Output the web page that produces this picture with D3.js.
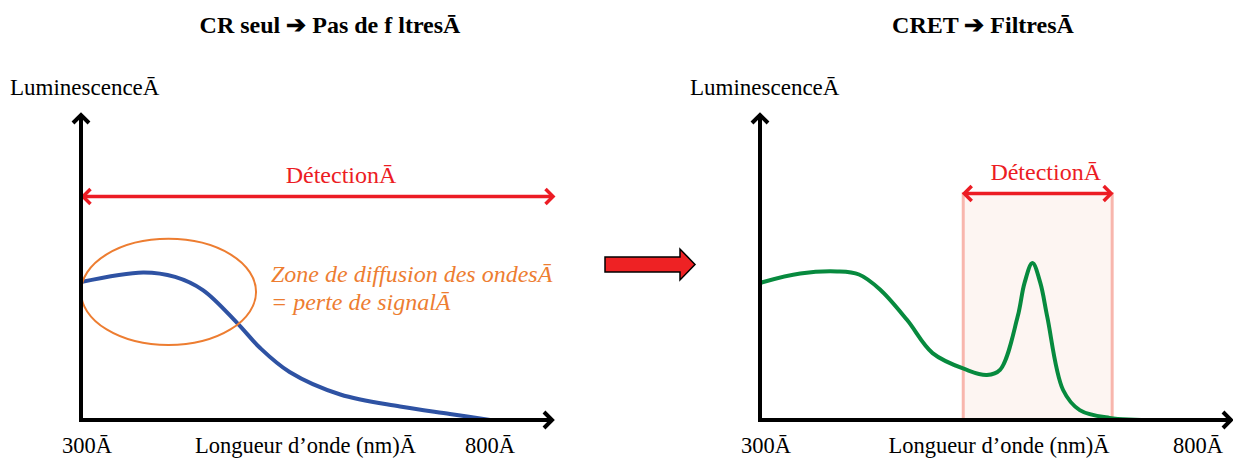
<!DOCTYPE html>
<html><head><meta charset="utf-8">
<script src="https://cdn.jsdelivr.net/npm/d3@7"></script>
<style>body{margin:0;background:#fff}svg{display:block}</style>
</head><body>
<svg id="c" width="1233" height="459"></svg>
<script>
// ---- data ----
const titles = ["CR seul \u2794 Pas de f ltres\u0100", "CRET \u2794 Filtres\u0100"];
const yLabel = "Luminescence\u0100";
const xLabel = "Longueur d\u2019onde (nm)\u0100";
const xTicks = [300, 800];
const tickLabels = ["300\u0100", "800\u0100"];
const detectionLabel = "D\u00e9tection\u0100";
const zoneLabel = ["Zone de diffusion des ondes\u0100", "= perte de signal\u0100"];
// CR seul spectrum (wavelength nm, luminescence a.u.)
const crWave = [300, 376, 415, 449, 491, 519, 555, 617, 690, 751, 800];
const crLum  = [0.46, 0.492, 0.477, 0.433, 0.323, 0.24, 0.16, 0.085, 0.045, 0.02, 0.0];
// CRET spectrum
const cretWave = [300, 346, 388, 413, 437, 468, 497, 536, 559, 574, 594, 602, 611, 620, 628, 646, 665, 699, 753];
const cretLum  = [0.457, 0.488, 0.495, 0.485, 0.435, 0.333, 0.223, 0.167, 0.15, 0.167, 0.343, 0.457, 0.523, 0.457, 0.343, 0.1, 0.033, 0.007, 0.0];
// scattering zone ellipse (center nm, center lum, radius nm, radius lum)
const zone = [407, 0.427, 107, 0.177];
// filter detection band (nm) and its height
const band = [532, 702];
const bandTop = 0.76;
const detY = [0.745, 0.755];

// ---- layout ----
const FONT = "'Liberation Serif', 'Times New Roman', serif";
const svg = d3.select("#c");
const panels = [
  {x0: 81, x1: 490, tip: 553, titleX: 330, lumX: 10},
  {x0: 760, x1: 1198, tip: 1232, titleX: 983, lumX: 690}
];
const y = d3.scaleLinear().domain([0, 1]).range([420, 120]);
const red = "#ec1c24";

function txt(g, x, yy, s, size) {
  return g.append("text").attr("x", x).attr("y", yy).attr("font-family", FONT)
    .attr("font-size", size).text(s);
}

function arrowHead(g, x, yy, dir, size, color, sw) {
  let p;
  if (dir === 'r') p = [[x - size, yy - size], [x, yy], [x - size, yy + size]];
  if (dir === 'l') p = [[x + size, yy - size], [x, yy], [x + size, yy + size]];
  if (dir === 'u') p = [[x - size, yy + size], [x, yy], [x + size, yy + size]];
  g.append("path").attr("d", d3.line()(p)).attr("fill", "none")
    .attr("stroke", color).attr("stroke-width", sw).attr("stroke-linejoin", "miter");
}

panels.forEach((P, i) => {
  const x = d3.scaleLinear().domain([300, 800]).range([P.x0, P.x1]);
  const g = svg.append("g");

  // title
  txt(g, P.titleX, 33, titles[i], 24).attr("text-anchor", "middle").attr("font-weight", "bold");
  txt(g, P.lumX, 95, yLabel, 23);

  // detection band (right panel)
  if (i === 1) {
    g.append("rect").attr("x", x(band[0])).attr("y", y(bandTop))
      .attr("width", x(band[1]) - x(band[0])).attr("height", y(0) - y(bandTop))
      .attr("fill", "#fdf5f2");
    band.forEach(b => g.append("line").attr("x1", x(b)).attr("x2", x(b))
      .attr("y1", y(bandTop)).attr("y2", y(0)).attr("stroke", "#f8b6ad").attr("stroke-width", 3));
  }

  // curve
  const wave = i === 0 ? crWave : cretWave;
  const lum = i === 0 ? crLum : cretLum;
  const pts = wave.map((w, k) => [x(w), y(lum[k])]);
  g.append("path").attr("d", d3.line().curve(d3.curveCatmullRom.alpha(0.5))(pts))
    .attr("fill", "none").attr("stroke", i === 0 ? "#2e52a3" : "#078a3e").attr("stroke-width", 4);

  // axes
  const ax = svg.append("g");
  ax.append("line").attr("x1", P.x0).attr("x2", P.x0).attr("y1", y(0) + 2).attr("y2", y(1.02))
    .attr("stroke", "#000").attr("stroke-width", 4);
  ax.append("line").attr("x1", P.x0 - 2).attr("x2", P.tip).attr("y1", y(0)).attr("y2", y(0))
    .attr("stroke", "#000").attr("stroke-width", 4);
  arrowHead(ax, P.x0, y(1.02) + 1, 'u', 8, "#000", 4);
  arrowHead(ax, P.tip - 1, y(0), 'r', 8, "#000", 4);

  // tick labels
  xTicks.forEach((t, k) => txt(g, x(t) + (k === 0 ? 6 : 0), 453, tickLabels[k], 22.5)
    .attr("text-anchor", "middle"));
  txt(g, (P.x0 + P.x1) / 2 + 20, 453, xLabel, 22.5).attr("text-anchor", "middle");

  // detection arrow
  const dx0 = i === 0 ? P.x0 + 2 : x(band[0]) + 1;
  const dx1 = i === 0 ? P.tip : x(band[1]) - 1;
  const dy = y(detY[i]);
  g.append("line").attr("x1", dx0).attr("x2", dx1).attr("y1", dy).attr("y2", dy)
    .attr("stroke", red).attr("stroke-width", 3.5);
  arrowHead(g, dx0, dy, 'l', 7.5, red, 3.5);
  arrowHead(g, dx1, dy, 'r', 7.5, red, 3.5);
  txt(g, i === 0 ? 341 : (x(band[0]) + x(band[1])) / 2 + 8, dy - 14, detectionLabel, 24)
    .attr("text-anchor", "middle").attr("fill", red);

  if (i === 0) {
    g.append("ellipse").attr("cx", x(zone[0])).attr("cy", y(zone[1]))
      .attr("rx", x(zone[0] + zone[2]) - x(zone[0])).attr("ry", y(0) - y(zone[3]))
      .attr("fill", "none").attr("stroke", "#ed7d31").attr("stroke-width", 2);
    zoneLabel.forEach((t, k) => txt(g, 271, 282 + k * 28, t, 24)
      .attr("font-style", "italic").attr("fill", "#ed7d31"));
  }
});

// transition arrow between panels
const arr = [[605, 257], [680, 257], [680, 249], [695, 264.5], [680, 280], [680, 272], [605, 272]];
svg.append("path").attr("d", d3.line()(arr) + "Z").attr("fill", "#ee2224")
  .attr("stroke", "#000").attr("stroke-width", 1.5);
</script>
</body></html>
